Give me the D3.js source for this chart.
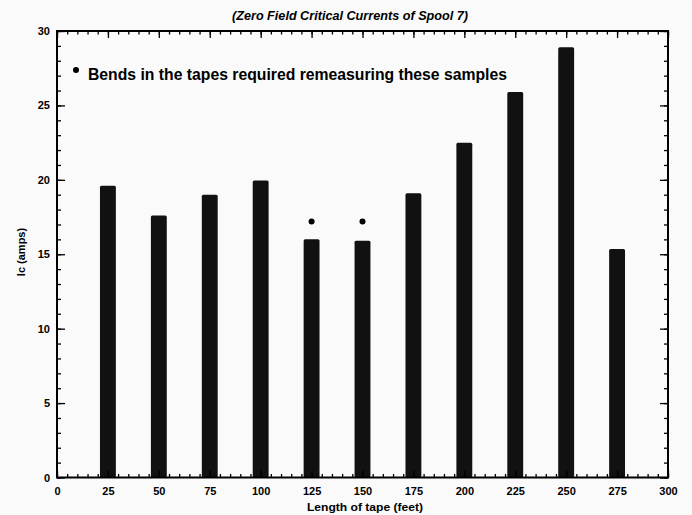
<!DOCTYPE html>
<html><head><meta charset="utf-8">
<script src="https://cdn.jsdelivr.net/npm/d3@7"></script>
<style>body{margin:0;background:#fafafa}svg{display:block}text{font-family:"Liberation Sans",Arial,sans-serif;font-weight:bold;fill:#000}</style>
</head><body><svg id="c" width="692" height="515"></svg>
<script>
const lengths = [25, 50, 75, 100, 125, 150, 175, 200, 225, 250, 275];
const icAmps = [19.6, 17.6, 19.0, 19.95, 16.0, 15.9, 19.1, 22.5, 25.9, 28.9, 15.35];
const markedLengths = [125, 150];
const markY = [17.2, 17.2];
const xTicks = [0, 25, 50, 75, 100, 125, 150, 175, 200, 225, 250, 275, 300];
const yTicks = [0, 5, 10, 15, 20, 25, 30];
const title = "(Zero Field Critical Currents of Spool 7)";
const note = "Bends in the tapes required remeasuring these samples";

const svg = d3.select("#c");
const L = 57, R = 668, T = 31, B = 477.5;
const x = d3.scaleLinear().domain([0, 300]).range([L, R]);
const y = d3.scaleLinear().domain([0, 30]).range([B, T]);

// bars
svg.append("g").selectAll("rect").data(lengths).join("rect")
  .attr("x", d => x(d - 3.9)).attr("width", x(7.8) - x(0))
  .attr("y", (d, i) => y(icAmps[i])).attr("height", (d, i) => y(0) - y(icAmps[i]))
  .attr("rx", 1.5).attr("fill", "#111");

// axes (ticks inward)
const tickW = 1.3;
function ax(gen, tr) {
  const g = svg.append("g").attr("transform", tr).call(gen);
  g.select(".domain").remove();
  g.selectAll("line").attr("stroke", "#000").attr("stroke-width", tickW);
  return g;
}
const xMinor = d3.range(0, 301, 5), yMinor = d3.range(0, 31, 1);
ax(d3.axisBottom(x).tickValues(xMinor).tickSize(-3.5).tickFormat(""), `translate(0,${B})`);
ax(d3.axisTop(x).tickValues(xMinor).tickSize(-3.5).tickFormat(""), `translate(0,${T})`);
ax(d3.axisLeft(y).tickValues(yMinor).tickSize(-4).tickFormat(""), `translate(${L},0)`);
ax(d3.axisRight(y).tickValues(yMinor).tickSize(-4).tickFormat(""), `translate(${R},0)`);

const gxB = ax(d3.axisBottom(x).tickValues(xTicks).tickSize(-7).tickPadding(10), `translate(0,${B})`);
ax(d3.axisTop(x).tickValues(xTicks).tickSize(-7).tickFormat(""), `translate(0,${T})`);
const gyL = ax(d3.axisLeft(y).tickValues(yTicks).tickSize(-8).tickPadding(7), `translate(${L},0)`);
ax(d3.axisRight(y).tickValues(yTicks).tickSize(-8).tickFormat(""), `translate(${R},0)`);
[gxB, gyL].forEach(g => g.selectAll("text").attr("font-size", 11).style("font-family", '"Liberation Sans",Arial,sans-serif').style("font-weight", "bold"));

// frame
svg.append("rect").attr("x", L).attr("y", T).attr("width", R - L).attr("height", B - T)
  .attr("fill", "none").attr("stroke", "#000").attr("stroke-width", 2);

// marker dots
svg.append("g").selectAll("circle").data(markedLengths).join("circle")
  .attr("cx", d => x(d)).attr("cy", (d, i) => y(markY[i])).attr("r", 3).attr("fill", "#000");

// title & labels
svg.append("text").attr("x", 350).attr("y", 20).attr("text-anchor", "middle")
  .attr("font-size", 12).attr("font-style", "italic")
  .attr("textLength", 236).attr("lengthAdjust", "spacingAndGlyphs").text(title);
svg.append("text").attr("x", 365).attr("y", 511).attr("text-anchor", "middle")
  .attr("font-size", 11.5).attr("textLength", 116).attr("lengthAdjust", "spacingAndGlyphs")
  .text("Length of tape (feet)");
svg.append("text").attr("transform", "translate(25,252) rotate(-90)").attr("text-anchor", "middle")
  .attr("font-size", 11).text("Ic (amps)");

// annotation
svg.append("circle").attr("cx", 76).attr("cy", 70).attr("r", 3).attr("fill", "#000");
svg.append("text").attr("x", 88).attr("y", 80).attr("font-size", 16)
  .attr("textLength", 419).attr("lengthAdjust", "spacingAndGlyphs").text(note);
</script></body></html>
